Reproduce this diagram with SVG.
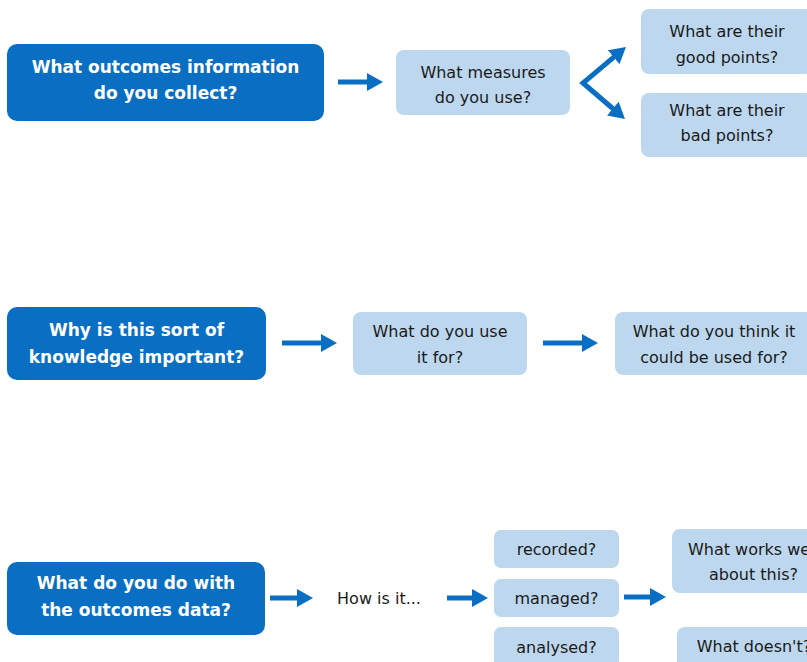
<svg xmlns="http://www.w3.org/2000/svg" width="807" height="662" viewBox="0 0 807 662">
  <defs>
    <marker id="head" markerUnits="userSpaceOnUse" markerWidth="16" markerHeight="18" refX="6" refY="9" orient="auto-start-reverse" viewBox="0 0 16 18">
      <path d="M0,0 L16,9 L0,18 z" fill="#0A6FC2"/>
    </marker>
    <style>
      .main rect { fill: #0A6FC2; }
      .main text { fill: #ffffff; font-family: "DejaVu Sans", "Verdana", sans-serif; font-weight: bold; font-size: 17px; text-anchor: middle; }
      .sub rect { fill: #BDD7EE; }
      .sub text, .plain text { fill: #1a1a1a; font-family: "DejaVu Sans", "Verdana", sans-serif; font-size: 16px; text-anchor: middle; }
      .arrow { fill: none; stroke: #0A6FC2; stroke-width: 5; marker-end: url(#head); }
      .fork { fill: none; stroke: #0A6FC2; stroke-width: 5; stroke-linejoin: miter; marker-start: url(#head); marker-end: url(#head); }
    </style>
  </defs>

  <!-- Row 1: outcomes information -->
  <g id="collect" class="main">
    <rect x="7" y="44" width="317" height="77" rx="10"/>
    <text x="165.5" y="73">What outcomes information</text>
    <text x="165.5" y="99">do you collect?</text>
  </g>
  <g id="measures" class="sub">
    <rect x="396" y="50" width="174" height="65" rx="8"/>
    <text x="483" y="78">What measures</text>
    <text x="483" y="103">do you use?</text>
  </g>
  <g id="good-points" class="sub">
    <rect x="641" y="9" width="172" height="65" rx="8"/>
    <text x="727" y="37">What are their</text>
    <text x="727" y="63">good points?</text>
  </g>
  <g id="bad-points" class="sub">
    <rect x="641" y="93" width="172" height="64" rx="8"/>
    <text x="727" y="116">What are their</text>
    <text x="727" y="141">bad points?</text>
  </g>

  <!-- Row 2: importance -->
  <g id="importance" class="main">
    <rect x="7" y="307" width="259" height="73" rx="10"/>
    <text x="136.5" y="336">Why is this sort of</text>
    <text x="136.5" y="363">knowledge important?</text>
  </g>
  <g id="use-for" class="sub">
    <rect x="353" y="312" width="174" height="63" rx="8"/>
    <text x="440" y="337">What do you use</text>
    <text x="440" y="363">it for?</text>
  </g>
  <g id="could-use" class="sub">
    <rect x="615" y="312" width="198" height="63" rx="8"/>
    <text x="714" y="337">What do you think it</text>
    <text x="714" y="363">could be used for?</text>
  </g>

  <!-- Row 3: data handling -->
  <g id="data" class="main">
    <rect x="7" y="562" width="258" height="73" rx="10"/>
    <text x="136" y="589">What do you do with</text>
    <text x="136" y="616">the outcomes data?</text>
  </g>
  <g id="how-is-it" class="plain">
    <text x="379" y="604">How is it...</text>
  </g>
  <g id="recorded" class="sub">
    <rect x="494" y="530" width="125" height="38" rx="7"/>
    <text x="556.5" y="555">recorded?</text>
  </g>
  <g id="managed" class="sub">
    <rect x="494" y="579" width="125" height="38" rx="7"/>
    <text x="556.5" y="604">managed?</text>
  </g>
  <g id="analysed" class="sub">
    <rect x="494" y="627" width="125" height="40" rx="7"/>
    <text x="556.5" y="653">analysed?</text>
  </g>
  <g id="works-well" class="sub">
    <rect x="672" y="529" width="163" height="64" rx="8"/>
    <text x="753.5" y="555">What works well</text>
    <text x="753.5" y="580">about this?</text>
  </g>
  <g id="doesnt" class="sub">
    <rect x="677" y="627" width="154" height="42" rx="8"/>
    <text x="754" y="652">What doesn't?</text>
  </g>

  <!-- Connectors -->
  <g id="connectors">
    <path class="arrow" d="M338,82 L373,82"/>
    <path class="fork" d="M618.3,53.4 L583,83 L617.4,112.5"/>
    <path class="arrow" d="M282,343 L327,343"/>
    <path class="arrow" d="M543,343 L588,343"/>
    <path class="arrow" d="M270,598 L303,598"/>
    <path class="arrow" d="M447,598 L478,598"/>
    <path class="arrow" d="M624,597 L656,597"/>
  </g>
</svg>
